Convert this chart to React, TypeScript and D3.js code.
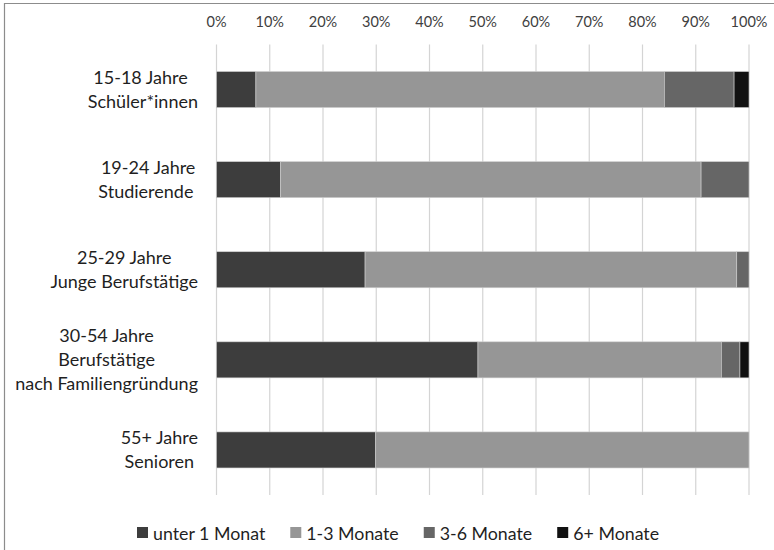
import React, { useEffect, useRef } from "react";
import * as d3 from "d3";

const categories: string[][] = [
  ["15-18 Jahre ", "Schüler*innen"],
  ["19-24 Jahre", "Studierende "],
  ["25-29 Jahre", "Junge Berufstätige"],
  ["30-54 Jahre", "Berufstätige", "nach Familiengründung"],
  ["55+ Jahre", "Senioren"],
];
const seriesNames = ["unter 1 Monat", "1-3 Monate", "3-6 Monate", "6+ Monate"];
const seriesColors = ["#3d3d3d", "#969696", "#666666", "#111111"];
const unter1 = [7.4, 12.0, 27.9, 49.1, 29.9];
const m1to3 = [76.7, 79.0, 69.8, 45.7, 70.1];
const m3to6 = [13.1, 9.0, 2.3, 3.5, 0];
const m6plus = [2.8, 0, 0, 1.7, 0];
const tickValues = [0, 10, 20, 30, 40, 50, 60, 70, 80, 90, 100];

const W = 774;
const H = 550;
const FONT = "Lato, 'Open Sans', sans-serif";

export default function App() {
  const ref = useRef<SVGSVGElement>(null);

  useEffect(() => {
    const svg = d3.select(ref.current);
    svg.selectAll("*").remove();

    const x = d3.scaleLinear().domain([0, 100]).range([216.5, 749]);
    const y = d3
      .scaleBand<number>()
      .domain(categories.map((_, i) => i))
      .range([44.5, 495])
      .paddingInner(0.6)
      .paddingOuter(0.3);

    // frame (left + top)
    svg.append("path").attr("d", `M4.5,${H} V3.5 H${W}`).attr("fill", "none").attr("stroke", "#8c8c8c").attr("stroke-width", 1.2);

    // gridlines
    svg
      .append("g")
      .selectAll("line")
      .data(tickValues)
      .join("line")
      .attr("x1", (d) => x(d))
      .attr("x2", (d) => x(d))
      .attr("y1", 44.5)
      .attr("y2", 495)
      .attr("stroke", "#d4d4d4")
      .attr("stroke-width", 1.2);

    // tick labels
    svg
      .append("g")
      .selectAll("text")
      .data(tickValues)
      .join("text")
      .attr("x", (d) => x(d))
      .attr("y", 27)
      .attr("text-anchor", "middle")
      .attr("font-family", FONT)
      .attr("font-size", 14.5)
      .attr("fill", "#404040")
      .text((d) => `${d}%`);

    // stacked bars
    const rows = categories.map((_, i) => ({ i, v: [unter1[i], m1to3[i], m3to6[i], m6plus[i]] }));
    const gBars = svg.append("g");
    rows.forEach((r) => {
      let acc = 0;
      r.v.forEach((v, k) => {
        if (v <= 0) return;
        gBars
          .append("rect")
          .attr("x", x(acc))
          .attr("y", y(r.i)!)
          .attr("width", x(acc + v) - x(acc))
          .attr("height", y.bandwidth())
          .attr("fill", seriesColors[k])
          .attr("stroke", "#cfcfcf")
          .attr("stroke-width", 0.6);
        acc += v;
      });
    });

    // category labels
    const gCat = svg.append("g");
    const lineH = 24;
    categories.forEach((lines, i) => {
      const cy = y(i)! + y.bandwidth() / 2;
      const texts = lines.map((ln, j) =>
        gCat
          .append("text")
          .attr("y", cy + (j - (lines.length - 1) / 2) * lineH + 6.5)
          .attr("font-family", FONT)
          .attr("font-size", 18)
          .attr("fill", "#1f1f1f")
          .attr("text-anchor", "middle")
          .style("white-space", "pre")
          .text(ln)
      );
      const maxW = d3.max(texts, (t) => (t.node() as SVGTextElement).getComputedTextLength()) || 0;
      texts.forEach((t) => t.attr("x", 198 - maxW / 2));
    });

    // legend
    const gLeg = svg.append("g");
    const legY = 533;
    const items = seriesNames.map((name, k) => {
      const g = gLeg.append("g");
      g.append("rect").attr("x", 0).attr("y", legY - 6).attr("width", 11).attr("height", 11).attr("fill", seriesColors[k]);
      const t = g
        .append("text")
        .attr("x", 16)
        .attr("y", legY + 6.5)
        .attr("font-family", FONT)
        .attr("font-size", 17.8)
        .attr("fill", "#1f1f1f")
        .text(name);
      const w = 16 + (t.node() as SVGTextElement).getComputedTextLength();
      return { g, w };
    });
    const gap = 25;
    let lx = 137;
    items.forEach((it) => {
      it.g.attr("transform", `translate(${lx},0)`);
      lx += it.w + gap;
    });
  }, []);

  return (
    <div style={{ position: "absolute", left: 0, top: 0, width: W, height: H, background: "#fff" }}>
      <svg ref={ref} width={W} height={H} style={{ display: "block" }} />
    </div>
  );
}
